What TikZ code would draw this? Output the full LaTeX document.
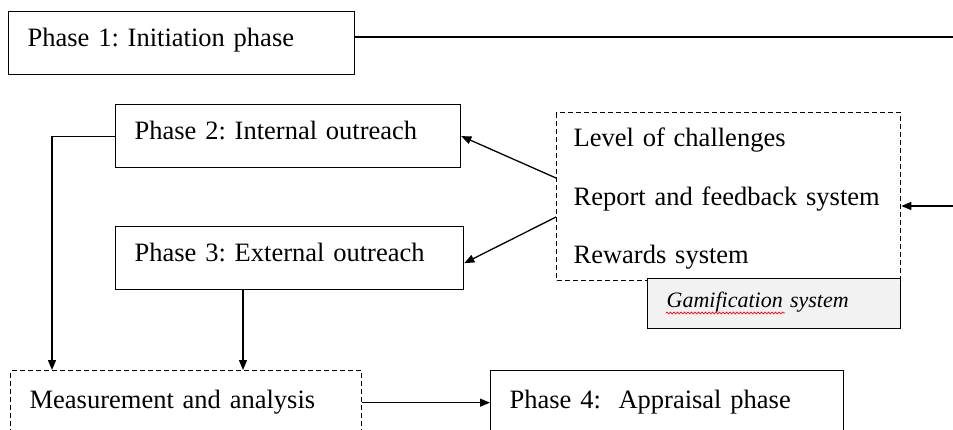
\documentclass[tikz,border=0pt]{standalone}
\usepackage{fontspec}
\setmainfont{Liberation Serif}
\usepackage{tikz}
\usetikzlibrary{arrows.meta, decorations.pathmorphing}
\frenchspacing
\hyphenpenalty=10000
\exhyphenpenalty=10000

\tikzset{
  phase/.style={draw, rectangle, anchor=north west, inner xsep=19pt, inner ysep=0pt,
    text height=35pt, text depth=28pt, align=left, font=\fontsize{26.5}{32}\selectfont},
  dashbox/.style={dash pattern=on 5pt off 3pt},
  arr/.style={-{Triangle[length=10pt,width=8pt]}}
}

\begin{document}
\begin{tikzpicture}[x=1pt, y=-1pt, line width=1.3pt]
    \path[use as bounding box] (0,0) rectangle (953,429);
    \clip (0,0) rectangle (953,429);

    % Phase boxes
    \node[phase, text width=308pt] (p1) at (8,11) {Phase 1: Initiation phase};
    \node[phase, text width=307pt] (p2) at (115,104) {Phase 2: Internal outreach};
    \node[phase, text width=310pt] (p3) at (115,226) {Phase 3: External outreach};
    \node[phase, dashbox, text width=313pt, text height=38pt, text depth=26pt] (meas) at (10,370) {Measurement and analysis};
    \node[phase, text width=315pt, text height=38pt, text depth=26pt] (p4) at (490,370) {Phase 4:\ \ Appraisal phase};

    % Gamification system
    \node[phase, dashbox, inner xsep=17pt, text width=310pt, text height=34pt, text depth=134pt,
      font=\fontsize{26.5}{58.5}\selectfont] (gsys) at (556,112)
      {\mbox{Level of challenges}\\\mbox{Report and feedback system}\\\mbox{Rewards system}};
    \node[phase, fill=black!5, text width=215pt, text height=29pt, text depth=21pt,
      font=\fontsize{22}{26}\selectfont\itshape] (glabel) at (647,278) {Gamification system};
    \draw[red, line width=0.7pt, decorate, decoration={snake, amplitude=0.9pt, segment length=3.5pt}]
      (666,313) -- (785,313);

    % Connectors
    \coordinate (topend) at (953,37);
    \coordinate (rightend) at (953,206);
    \draw (topend -| p1.east) -- (topend);
    \draw[arr] (rightend) -- (rightend -| gsys.east);
    \draw[arr] ([yshift=-66pt]gsys.north west) -- (p2.east);
    \draw[arr] ([yshift=-105pt]gsys.north west) -- ([yshift=-5pt]p3.east);
    \draw[arr] (p2.west) -| ([xshift=42pt]meas.north west);
    \draw[arr] ([xshift=128pt]p3.south west) -- ([xshift=128pt]p3.south west |- meas.north);
    \draw[arr] (meas.east) -- (p4.west);
\end{tikzpicture}
\end{document}
